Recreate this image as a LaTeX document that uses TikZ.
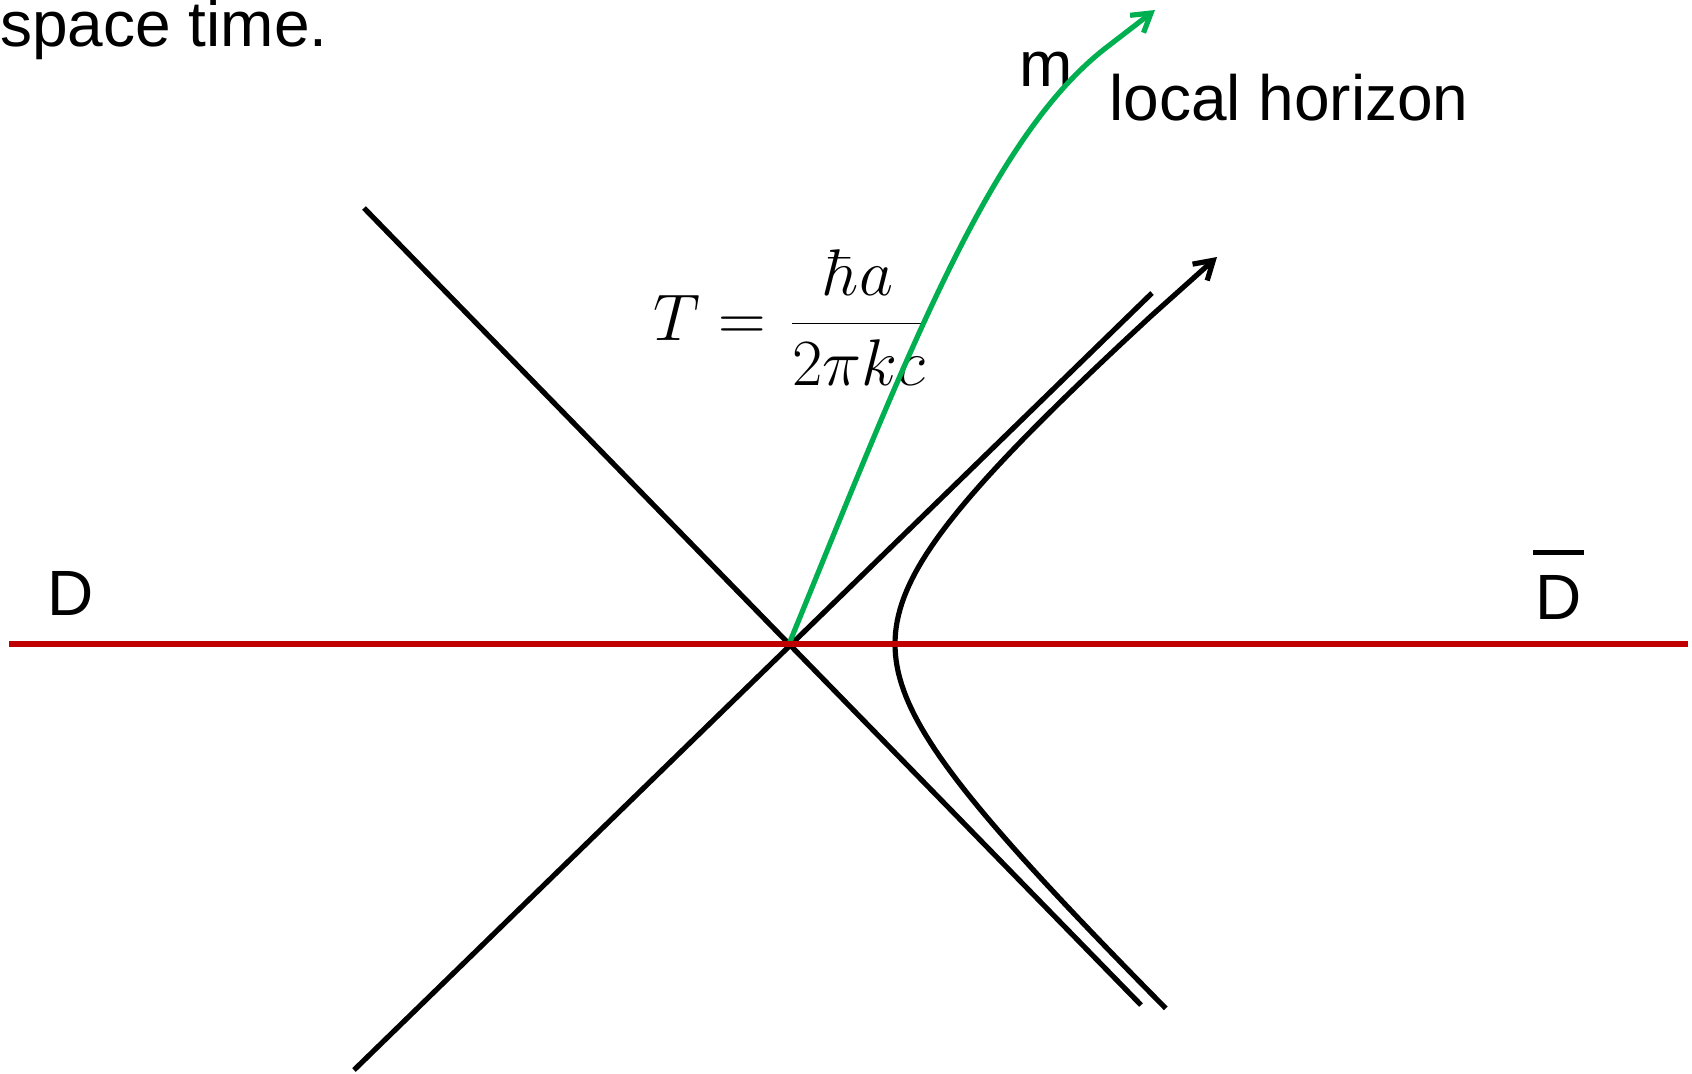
\RequirePackage{fix-cm}
\documentclass[tikz,border=0pt]{standalone}
\usepackage[no-math]{fontspec}
\newfontfamily\arialfont{Liberation Sans}
\usetikzlibrary{arrows.meta}
\definecolor{accgreen}{RGB}{0,176,80}
\definecolor{axisred}{RGB}{192,0,0}

\begin{document}
\begin{tikzpicture}[
    x=0.5pt, y=-0.5pt,
    lbl/.style={font=\arialfont\fontsize{32}{38}\selectfont, inner sep=0pt, anchor=base west},
    cone/.style={line width=2.6pt},
    orbit/.style={line width=2.6pt, -{Straight Barb[length=9pt, width=11pt]}},
    accel/.style={orbit, draw=accgreen},
    axis/.style={draw=axisred, line width=2.9pt},
    overbar/.style={line width=2.6pt},
]
\useasboundingbox (0,0) rectangle (1692,1073);

% Light cone through the origin
\coordinate (O) at (789,644);
\coordinate (nw) at (364,208);
\coordinate (se) at (1141,1005);
\coordinate (sw) at (354,1070);
\coordinate (ne) at (1152,293);
\draw[cone] (nw) -- (se);
\draw[cone] (sw) -- (ne);

% Accelerated observer (hyperbola)
\coordinate (hyptip) at (1217,257);
\draw[orbit] plot[domain=-1.71:1.673, samples=80, variable=\t]
    ({749+146*cosh(\t)}, {644-(132-2.5*\t)*sinh(\t)}) -- (hyptip);

% Labels
\node[lbl] (title) at (0,46) {space time.};
\node[lbl] (mlabel) at (1019,86) {m};
\node[lbl] (horizon) at (1109,120) {local horizon};
\node[lbl, font=\fontsize{33}{40}\selectfont] (temp) at (653,340)
    {$\displaystyle T=\mkern1.5mu\frac{\hbar a}{2\pi kc}$};

% Green world line
\coordinate (greenend) at (1107,47);
\coordinate (greentip) at (1155,10);
\draw[accel] (O) .. controls (903,366) and (988,138) .. (greenend) -- (greentip);

% D axis
\coordinate (dl) at (9,644);
\coordinate (dr) at (1688,644);
\draw[axis] (dl) -- (dr);
\node[lbl] (dleft) at (47,615) {D};
\node[lbl] (dright) at (1535,619) {D};
\draw[overbar] ([shift={(-2,-22)}]dright.north west) -- ([shift={(2,-22)}]dright.north east);

\end{tikzpicture}
\end{document}
